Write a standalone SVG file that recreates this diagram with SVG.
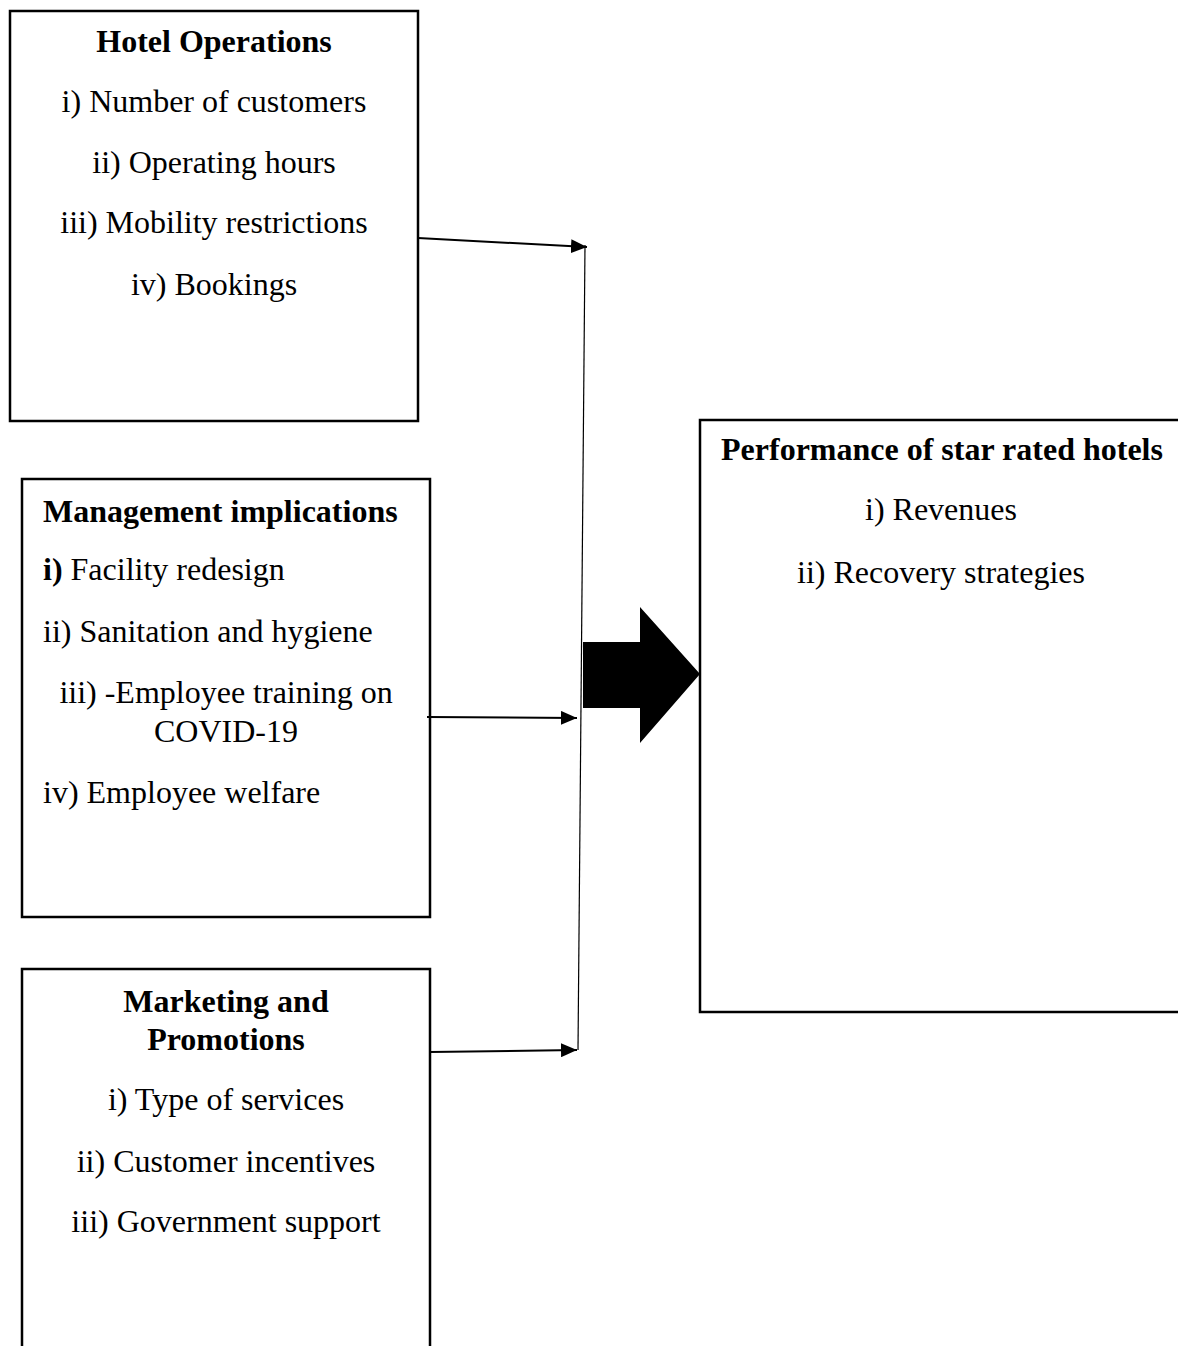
<svg xmlns="http://www.w3.org/2000/svg" width="1178" height="1346" viewBox="0 0 1178 1346">
<style>
.box{fill:#fff;stroke:#000;stroke-width:2.5}
text{font-family:"Liberation Serif","Times New Roman",serif;font-size:32px;fill:#000}
.b{font-weight:bold}
.c{text-anchor:middle}
.con{stroke:#000;stroke-width:2;fill:none}
</style>
<defs>
<marker id="ah2" markerWidth="16" markerHeight="14" refX="16" refY="7" orient="auto" markerUnits="userSpaceOnUse" viewBox="0 0 16 14">
<path d="M0,0 L16,7 L0,14 Z" fill="#000"/>
</marker>
</defs>
<rect width="1178" height="1346" fill="#fff"/>
<g id="hotel-operations">
<rect class="box" x="10" y="11" width="408" height="410"/>
<text class="b c" x="214" y="52">Hotel Operations</text>
<text class="c" x="214" y="112">i) Number of customers</text>
<text class="c" x="214" y="173">ii) Operating hours</text>
<text class="c" x="214" y="233">iii) Mobility restrictions</text>
<text class="c" x="214" y="295">iv) Bookings</text>
</g>
<g id="management-implications">
<rect class="box" x="22" y="479" width="408" height="438"/>
<text class="b" x="43" y="522">Management implications</text>
<text x="43" y="580"><tspan class="b">i)</tspan> Facility redesign</text>
<text x="43" y="642">ii) Sanitation and hygiene</text>
<text class="c" x="226" y="703">iii) -Employee training on</text>
<text class="c" x="226" y="742">COVID-19</text>
<text x="43" y="803">iv) Employee welfare</text>
</g>
<g id="marketing-promotions">
<rect class="box" x="22" y="969" width="408" height="400"/>
<text class="b c" x="226" y="1012">Marketing and</text>
<text class="b c" x="226" y="1050">Promotions</text>
<text class="c" x="226" y="1110">i) Type of services</text>
<text class="c" x="226" y="1172">ii) Customer incentives</text>
<text class="c" x="226" y="1232">iii) Government support</text>
</g>
<g id="performance">
<rect class="box" x="700" y="420" width="500" height="592"/>
<text class="b c" x="942" y="460">Performance of star rated hotels</text>
<text class="c" x="941" y="520">i) Revenues</text>
<text class="c" x="941" y="583">ii) Recovery strategies</text>
</g>
<g id="connectors">
<line x1="585" y1="245" x2="578" y2="1050" stroke="#000" stroke-width="1.2"/>
<line class="con" x1="418" y1="238" x2="587" y2="247" marker-end="url(#ah2)"/>
<line class="con" x1="427" y1="717" x2="577" y2="718" marker-end="url(#ah2)"/>
<line class="con" x1="430" y1="1052" x2="577" y2="1050" marker-end="url(#ah2)"/>
<path d="M583,642 L640,642 L640,607 L700,674 L640,743 L640,708 L583,708 Z" fill="#000"/>
</g>
</svg>
